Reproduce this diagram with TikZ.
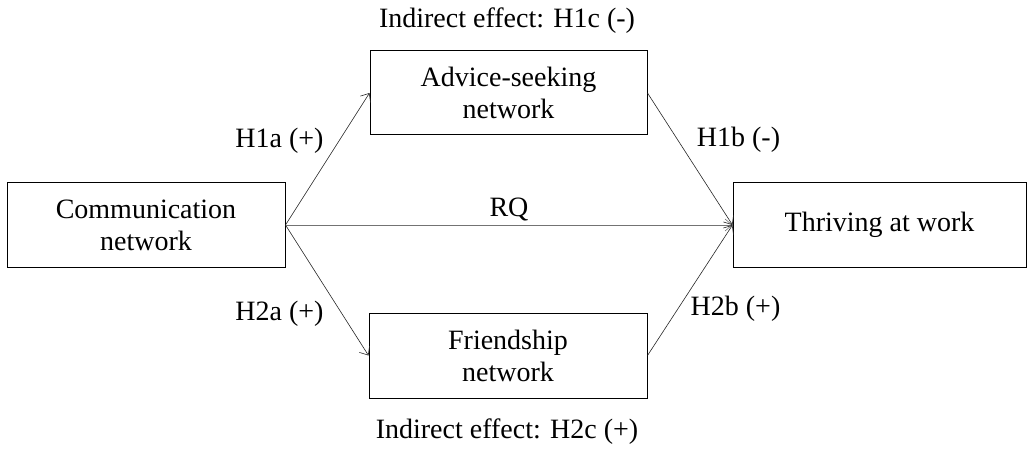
\documentclass[tikz,border=0pt]{standalone}
\usepackage{fontspec}
\setmainfont{Liberation Serif}
\usetikzlibrary{arrows.meta}
\begin{document}
\begin{tikzpicture}[x=1pt,y=-1pt,
  box/.style={draw=black,line width=1pt,inner sep=0pt,align=center,
    font=\fontsize{28}{32}\selectfont},
  lbl/.style={anchor=base,inner sep=0pt,font=\fontsize{28}{32}\selectfont},
  conn/.style={draw=black!85,line width=0.6pt,-{Straight Barb[length=7pt,width=12pt,line width=0.6pt]}}]
\useasboundingbox (0,0) rectangle (1027,449);
\node[box,minimum width=278pt,minimum height=84pt] (comm) at (146,225) {Communication\\network};
\node[box,minimum width=277pt,minimum height=84pt] (adv) at (508.5,93) {Advice-seeking\\network};
\node[box,minimum width=278pt,minimum height=85pt] (fri) at (508,355.5) {Friendship\\network};
\node[box,minimum width=293pt,minimum height=84pt] (thr) at (879.5,225) {Thriving at work};
\node[lbl] (ie1) at (507,28) {Indirect effect: H1c (-)};
\node[lbl] (ie2) at (507,438) {Indirect effect: H2c (+)};
\node[lbl] (h1a) at (279.5,148) {H1a (+)};
\node[lbl] (h2a) at (279.5,320) {H2a (+)};
\node[lbl] (h1b) at (738.5,147) {H1b (-)};
\node[lbl] (h2b) at (735.5,315) {H2b (+)};
\node[lbl] (rq) at (509,216) {RQ};
\draw[conn] (comm.east) -- (adv.west);
\draw[conn] (comm.east) -- (fri.west);
\draw[conn,draw=black!55] (comm.east) -- (thr.west);
\draw[conn] (adv.east) -- (thr.west);
\draw[conn] (fri.east) -- (thr.west);
\end{tikzpicture}
\end{document}
